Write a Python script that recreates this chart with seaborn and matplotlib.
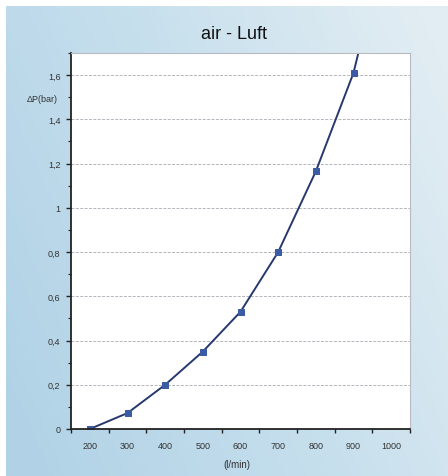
import numpy as np
import matplotlib
matplotlib.use('Agg')
import matplotlib.pyplot as plt
from matplotlib.colors import LinearSegmentedColormap
from matplotlib.ticker import MultipleLocator, FuncFormatter
import seaborn as sns
import pandas as pd

# ================= data =================
flow = [200, 300, 400, 500, 600, 700, 800, 900]          # l/min
dp = [0.0, 0.072, 0.20, 0.35, 0.53, 0.80, 1.165, 1.61]   # bar
# curve continues past the last point and leaves the plot at the top
trend_flow = [900, 930]
trend_dp = [1.61, 1.82]

x_ticks = [200, 300, 400, 500, 600, 700, 800, 900, 1000]
y_ticks = [0, 0.2, 0.4, 0.6, 0.8, 1.0, 1.2, 1.4, 1.6]

TITLE = 'air - Luft'
XLABEL = '(l/min)'
YLABEL = 'ΔP(bar)'

# ================= style =================
sns.set_theme(style='white')
plt.rcParams['font.family'] = ['Liberation Sans', 'DejaVu Sans']

fig = plt.figure(figsize=(4.48, 4.77), dpi=100, facecolor='white')

# light blue scanned background (bluer on the left, paler top right)
bg = fig.add_axes([6 / 448, 0, 1 - 6 / 448, 1 - 7 / 477], zorder=-10)
gx, gy = np.meshgrid(np.linspace(0, 1, 200), np.linspace(0, 1, 200))
grad = np.clip(0.75 * gx + 0.35 * (1 - gy) - 0.05, 0, 1)
cmap = LinearSegmentedColormap.from_list('bg', ['#b1d2e6', '#c6dfed', '#e2edf3'])
bg.imshow(grad, cmap=cmap, aspect='auto', extent=[0, 1, 0, 1], origin='upper')
bg.set_axis_off()

ax = fig.add_axes([71 / 448, 47 / 477, 339 / 448, 376 / 477])
ax.set_facecolor('white')

df = pd.DataFrame({'flow': flow, 'dp': dp})
df_trend = pd.DataFrame({'flow': trend_flow, 'dp': trend_dp})

sns.lineplot(data=df_trend, x='flow', y='dp', ax=ax, color='#27386e', lw=1.4)
sns.lineplot(data=df, x='flow', y='dp', ax=ax, color='#27386e', lw=1.4,
             marker='s', markersize=4, markerfacecolor='#3b5ba5',
             markeredgecolor='#3b5ba5')

ax.set_xlim(150, 1050)
ax.set_ylim(0, 1.7)

ax.set_xticks(x_ticks)
ax.xaxis.set_minor_locator(MultipleLocator(100, offset=50))
ax.set_yticks(y_ticks)
ax.yaxis.set_minor_locator(MultipleLocator(0.1))

ax.yaxis.set_major_formatter(FuncFormatter(
    lambda v, p: '0' if abs(v) < 1e-9 else ('%g' % round(v, 1)).replace('.', ',')))

ax.tick_params(axis='x', which='major', length=0, pad=9, labelsize=6.5, labelcolor='#333333')
ax.tick_params(axis='x', which='minor', length=3, width=1, direction='out', color='#222222', bottom=True)
ax.tick_params(axis='y', which='major', length=3.5, width=1, direction='out', pad=4,
               labelsize=6.5, labelcolor='#333333', color='#222222', left=True)
ax.tick_params(axis='y', which='minor', length=2, width=0.8, direction='out', color='#222222', left=True)

ax.grid(axis='y', which='major', color='#b4b4bc', lw=0.7, ls=(0, (3, 1.5)))
ax.set_axisbelow(True)

for side in ['top', 'right']:
    ax.spines[side].set_color('#b9b9c0')
    ax.spines[side].set_linewidth(0.8)
for side in ['left', 'bottom']:
    ax.spines[side].set_color('#222222')
    ax.spines[side].set_linewidth(1.3)

ax.set_xlabel('')
ax.set_ylabel('')

fig.text(0.522, 0.927, TITLE, ha='center', va='center', fontsize=13, color='#111111')
fig.text(0.529, 0.025, XLABEL, ha='center', va='center', fontsize=7, color='#333333')
fig.text(0.094, 0.792, YLABEL, ha='center', va='center', fontsize=6.5, color='#333333')

fig.savefig('out.png', dpi=100, facecolor='white')
